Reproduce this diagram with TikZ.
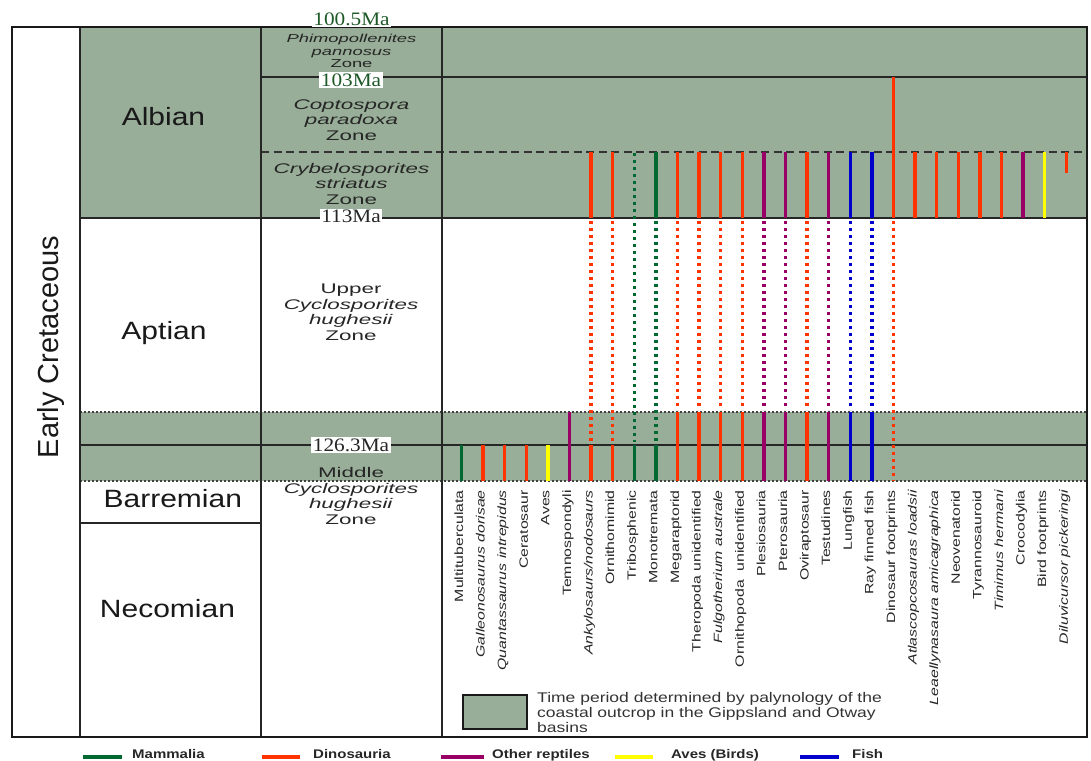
\documentclass[tikz,border=0pt]{standalone}
\usepackage{fontspec}
\setmainfont{Liberation Sans}
\newfontfamily\stg{Liberation Sans}[FakeStretch=1.2]
\newfontfamily\zn{Liberation Sans}[FakeStretch=1.6]
\newfontfamily\tx{Liberation Sans}[FakeStretch=1.32]
\newfontfamily\lgt{Liberation Sans}[FakeStretch=1.25]
\newfontfamily\lgb{Liberation Sans}[FakeStretch=1.2]
\newfontfamily\mafont{Liberation Serif}[FakeStretch=1.12]
\definecolor{fillg}{RGB}{152,174,152}
\definecolor{mam}{RGB}{0,105,50}
\definecolor{dino}{RGB}{255,51,0}
\definecolor{rept}{RGB}{153,0,102}
\definecolor{aves}{RGB}{255,255,0}
\definecolor{fish}{RGB}{0,0,204}
\definecolor{mag}{RGB}{30,90,40}
\newcommand\sbar[4]{\draw[barl,#2] ({461.5+21.6*#1},#3) -- ({461.5+21.6*#1},#4);}
\newcommand\dbar[4]{\draw[barl,dotpat,#2] ({461.5+21.6*#1},#3) -- ({461.5+21.6*#1},#4);}
\begin{document}
\begin{tikzpicture}[x=1pt,y=-1pt,
  frame/.style={line width=2.5pt,draw=black!90},
  grid/.style={line width=1.8pt,draw=black!85},
  dashl/.style={line width=2pt,draw=black!80,dash pattern=on 8pt off 4.5pt},
  dotl/.style={line width=1.5pt,draw=black!75,dash pattern=on 2pt off 2pt},
  barl/.style={line width=3.5pt},
  dotpat/.style={dash pattern=on 3pt off 4pt},
  stage/.style={font=\stg\fontsize{25}{30}\selectfont,text=black!90,inner sep=0pt,anchor=base},
  zone/.style={font=\zn\fontsize{14}{15.5}\selectfont,text=black!85,align=center,inner sep=0pt},
  malab/.style={font=\mafont\fontsize{19}{21}\selectfont,fill=white,inner xsep=1.5pt,inner ysep=1.5pt},
  taxon/.style={font=\tx\fontsize{12}{14}\selectfont,text=black!85,rotate=90,anchor=base east,inner sep=0pt},
  leglab/.style={font=\lgb\bfseries\fontsize{12.5}{14}\selectfont,text=black!85,anchor=base west,inner sep=0pt},
  legline/.style={line width=3.5pt}
]
\useasboundingbox (0,0) rectangle (1091,760);
% green fills
\fill[fillg] (80,27) rectangle (1087,218);
\fill[fillg] (80,412) rectangle (1087,481);
% horizontal lines
\draw[grid] (261,77) -- (1087,77);
\draw[dashl] (261,152) -- (1087,152);
\draw[grid] (80,218) -- (1087,218);
\draw[dotl] (80,412) -- (1087,412);
\draw[grid] (80,445) -- (1087,445);
\draw[dotl] (80,481) -- (1087,481);
\draw[grid] (80,523) -- (261,523);
% vertical lines
\draw[grid] (80,27) -- (80,737);
\draw[grid] (261,27) -- (261,737);
\draw[grid] (442,27) -- (442,737);
% outer frame
\draw[frame] (12,27) rectangle (1087,737);
% bars
\sbar{0}{mam}{445}{481}
\sbar{1}{dino}{445}{481}
\sbar{2}{dino}{445}{481}
\sbar{3}{dino}{445}{481}
\sbar{4}{aves}{445}{481}
\sbar{5}{rept}{412}{481}
\sbar{6}{dino}{152}{218}\dbar{6}{dino}{221}{442}\sbar{6}{dino}{445}{481}
\sbar{7}{dino}{152}{218}\dbar{7}{dino}{221}{442}\sbar{7}{dino}{445}{481}
\dbar{8}{mam}{153}{442}\sbar{8}{mam}{445}{481}
\sbar{9}{mam}{152}{218}\dbar{9}{mam}{221}{442}\sbar{9}{mam}{445}{481}
\sbar{10}{dino}{152}{218}\dbar{10}{dino}{221}{410}\sbar{10}{dino}{412}{481}
\sbar{11}{dino}{152}{218}\dbar{11}{dino}{221}{410}\sbar{11}{dino}{412}{481}
\sbar{12}{dino}{152}{218}\dbar{12}{dino}{221}{410}\sbar{12}{dino}{412}{481}
\sbar{13}{dino}{152}{218}\dbar{13}{dino}{221}{410}\sbar{13}{dino}{412}{481}
\sbar{14}{rept}{152}{218}\dbar{14}{rept}{221}{410}\sbar{14}{rept}{412}{481}
\sbar{15}{rept}{152}{218}\dbar{15}{rept}{221}{410}\sbar{15}{rept}{412}{481}
\sbar{16}{dino}{152}{218}\dbar{16}{dino}{221}{410}\sbar{16}{dino}{412}{481}
\sbar{17}{rept}{152}{218}\dbar{17}{rept}{221}{410}\sbar{17}{rept}{412}{481}
\sbar{18}{fish}{152}{218}\dbar{18}{fish}{221}{410}\sbar{18}{fish}{412}{481}
\sbar{19}{fish}{152}{218}\dbar{19}{fish}{221}{410}\sbar{19}{fish}{412}{481}
\sbar{20}{dino}{77}{218}\dbar{20}{dino}{221}{481}
\sbar{21}{dino}{152}{218}
\sbar{22}{dino}{152}{218}
\sbar{23}{dino}{152}{218}
\sbar{24}{dino}{152}{218}
\sbar{25}{dino}{152}{218}
\sbar{26}{rept}{152}{218}
\sbar{27}{aves}{152}{218}
\sbar{28}{dino}{152}{173}
% era and stages
\node[font=\fontsize{29}{32}\selectfont,text=black!90,rotate=90,anchor=base,inner sep=0pt] (era) at (58.5,347) {Early Cretaceous};
\node[stage] (albian) at (163.5,125) {Albian};
\node[stage] (aptian) at (164,339) {Aptian};
\node[stage] (barrem) at (172.8,507.5) {Barremian};
\node[stage] (necom) at (167.5,617) {Necomian};
% zones
\node[zone,font=\zn\fontsize{11.5}{12.5}\selectfont] (z1) at (351.5,51) {\textit{Phimopollenites}\\\textit{pannosus}\\Zone};
\node[zone] (z2) at (351.5,120) {\textit{Coptospora}\\\textit{paradoxa}\\Zone};
\node[zone] (z3) at (351.5,183.5) {\textit{Crybelosporites}\\\textit{striatus}\\Zone};
\node[zone] (z4) at (351,312) {Upper\\\textit{Cyclosporites}\\\textit{hughesii}\\Zone};
\node[zone] (z5) at (351,496) {Middle\\\textit{Cyclosporites}\\\textit{hughesii}\\Zone};
% Ma labels
\node[malab,text=mag] (ma1) at (351.5,19.5) {100.5Ma};
\node[malab,text=mag] (ma2) at (351,80) {103Ma};
\node[malab,text=black!85] (ma3) at (351,216.5) {113Ma};
\node[malab,text=black!85] (ma4) at (351,445) {126.3Ma};
% taxon labels
\node[taxon] (t0) at ({463+21.6*0},490) {Multituberculata};
\node[taxon] (t1) at ({463+21.6*1},490) {\itshape Galleonosaurus dorisae};
\node[taxon] (t2) at ({463+21.6*2},490) {\itshape Quantassaurus intrepidus};
\node[taxon] (t3) at ({463+21.6*3},490) {Ceratosaur};
\node[taxon] (t4) at ({463+21.6*4},490) {Aves};
\node[taxon] (t5) at ({463+21.6*5},490) {Temnospondyli};
\node[taxon] (t6) at ({463+21.6*6},490) {\itshape Ankylosaurs/nodosaurs};
\node[taxon] (t7) at ({463+21.6*7},490) {Ornithomimid};
\node[taxon] (t8) at ({463+21.6*8},490) {Tribosphenic};
\node[taxon] (t9) at ({463+21.6*9},490) {Monotremata};
\node[taxon] (t10) at ({463+21.6*10},490) {Megaraptorid};
\node[taxon] (t11) at ({463+21.6*11},490) {Theropoda unidentified};
\node[taxon] (t12) at ({463+21.6*12},490) {\itshape Fulgotherium australe};
\node[taxon] (t13) at ({463+21.6*13},490) {Ornithopoda\ \ unidentified};
\node[taxon] (t14) at ({463+21.6*14},490) {Plesiosauria};
\node[taxon] (t15) at ({463+21.6*15},490) {Pterosauria};
\node[taxon] (t16) at ({463+21.6*16},490) {Oviraptosaur};
\node[taxon] (t17) at ({463+21.6*17},490) {Testudines};
\node[taxon] (t18) at ({463+21.6*18},490) {Lungfish};
\node[taxon] (t19) at ({463+21.6*19},490) {Ray finned fish};
\node[taxon] (t20) at ({463+21.6*20},490) {Dinosaur footprints};
\node[taxon] (t21) at ({463+21.6*21},490) {\itshape Atlascopcosauras loadsii};
\node[taxon] (t22) at ({463+21.6*22},490) {\itshape Leaellynasaura amicagraphica};
\node[taxon] (t23) at ({463+21.6*23},490) {Neovenatorid};
\node[taxon] (t24) at ({463+21.6*24},490) {Tyrannosauroid};
\node[taxon] (t25) at ({463+21.6*25},490) {\itshape Timimus hermani};
\node[taxon] (t26) at ({463+21.6*26},490) {Crocodylia};
\node[taxon] (t27) at ({463+21.6*27},490) {Bird footprints};
\node[taxon] (t28) at ({463+21.6*28},490) {\itshape Diluvicursor pickeringi};
% inner legend
\node[draw=black!90,line width=2pt,fill=fillg,minimum width=64pt,minimum height=34pt,inner sep=0pt,anchor=north west] (lbox) at (462,694) {};
\node[font=\lgt\fontsize{14}{15}\selectfont,text=black!80,align=left,anchor=north west,inner sep=0pt] (ltext) at (537,692) {Time period determined by palynology of the\\coastal outcrop in the Gippsland and Otway\\basins};
% bottom legend
\draw[legline,mam] (83,757) -- (122,757);
\node[leglab] (l1) at (132,758) {Mammalia};
\draw[legline,dino] (262,757) -- (300,757);
\node[leglab] (l2) at (313,758) {Dinosauria};
\draw[legline,rept] (441,757) -- (484,757);
\node[leglab] (l3) at (492,758) {Other reptiles};
\draw[legline,aves] (615,757) -- (653,757);
\node[leglab] (l4) at (671,758) {Aves (Birds)};
\draw[legline,fish] (800,757) -- (839,757);
\node[leglab] (l5) at (852,758) {Fish};
\end{tikzpicture}
\end{document}
